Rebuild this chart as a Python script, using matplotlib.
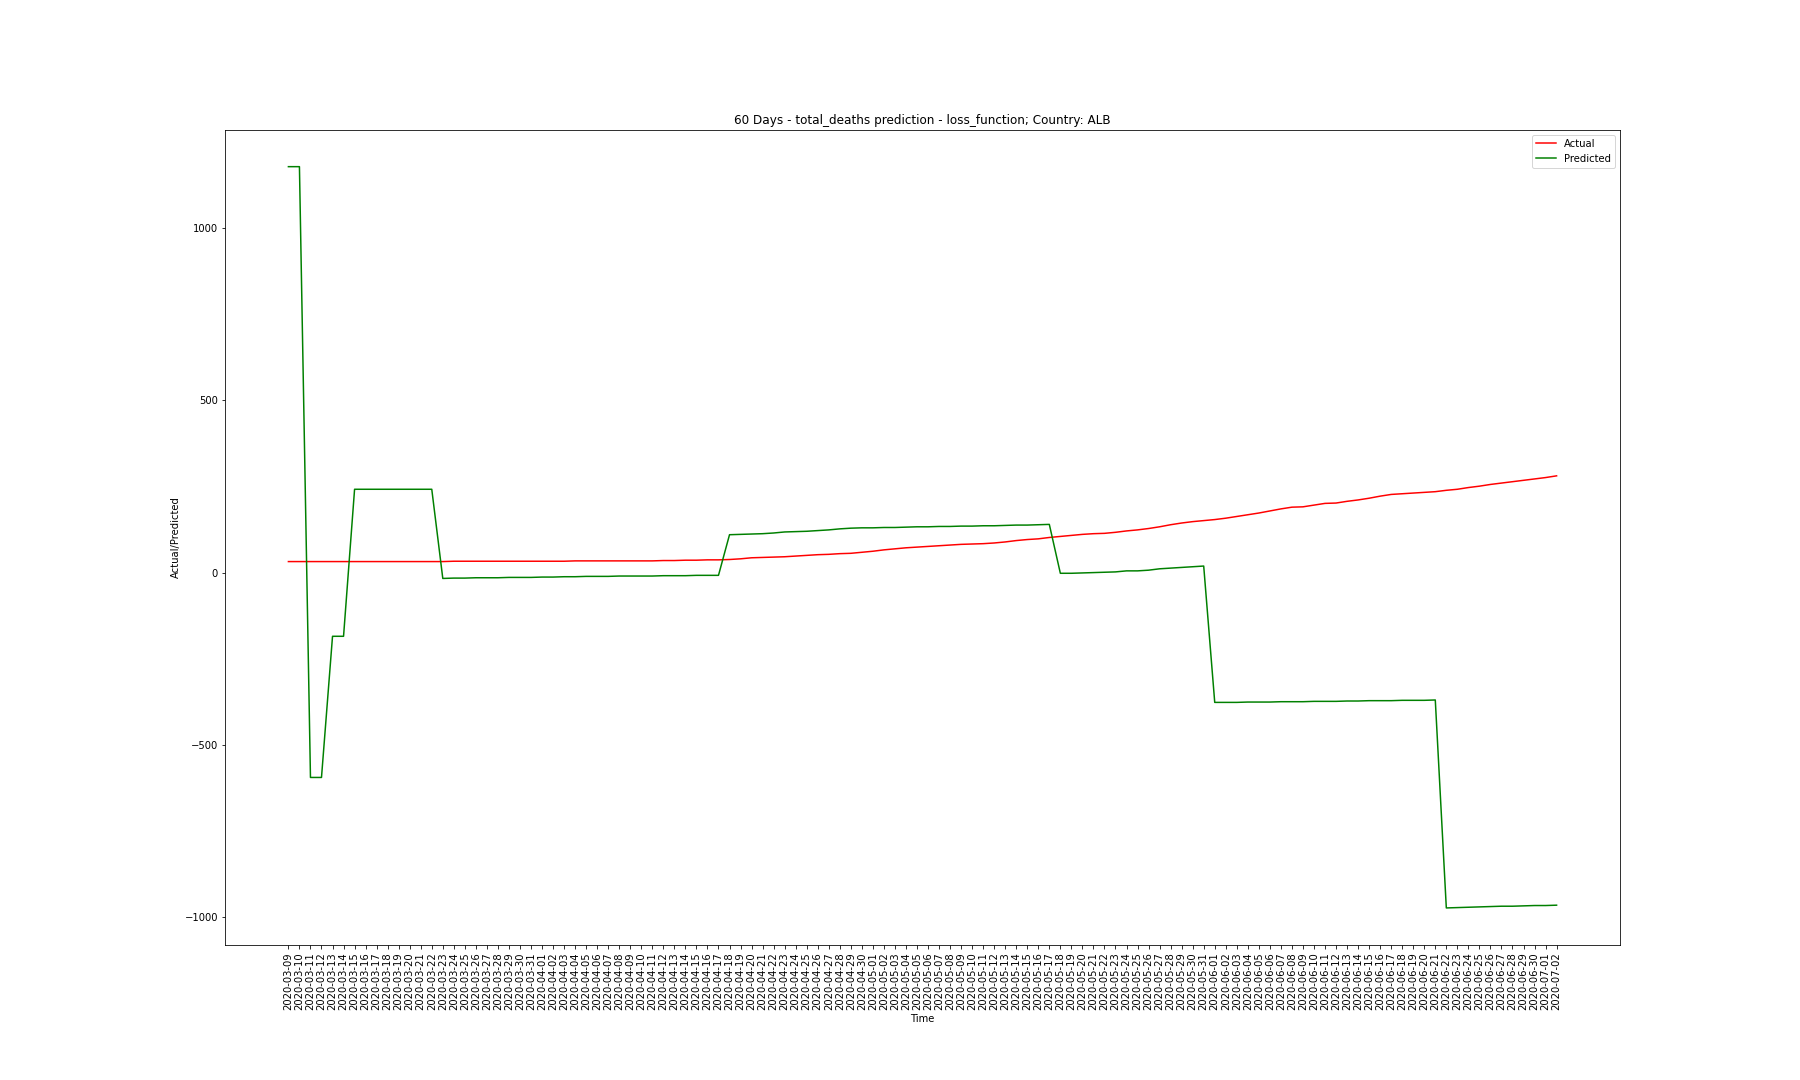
import numpy as np
import pandas as pd
import matplotlib
matplotlib.use('Agg')
import matplotlib.pyplot as plt

# dates 2020-03-09 .. 2020-07-02
dates = pd.date_range('2020-03-09', '2020-07-02').strftime('%Y-%m-%d').tolist()

actual = [
    32, 32, 32, 32, 32, 32, 32, 32, 32, 32,
    32, 32, 32, 32, 32, 33, 33, 33, 33, 33,
    33, 33, 33, 33, 33, 33, 34, 34, 34, 34,
    34, 34, 34, 34, 35, 35, 36, 36, 37, 37,
    38, 40, 43, 44, 45, 46, 48, 50, 52, 53,
    55, 56, 59, 62, 66, 69, 72, 74, 76, 78,
    80, 82, 83, 84, 86, 89, 93, 96, 98, 102,
    105, 108, 111, 113, 114, 117, 121, 124, 128, 133,
    139, 144, 148, 151, 154, 158, 163, 168, 173, 179,
    185, 190, 191, 196, 201, 202, 207, 211, 216, 222,
    227, 229, 231, 233, 235, 239, 242, 247, 251, 256,
    260, 264, 268, 272, 276, 281,
]

predicted = [
    1179, 1179, -595, -595, -185, -185, 242, 242, 242, 242,
    242, 242, 242, 242, -17, -16, -16, -15, -15, -15,
    -14, -14, -14, -13, -13, -12, -12, -11, -11, -11,
    -10, -10, -10, -10, -9, -9, -9, -8, -8, -8,
    110, 111, 112, 113, 115, 118, 119, 120, 122, 124,
    127, 129, 130, 130, 131, 131, 132, 133, 133, 134,
    134, 135, 135, 136, 136, 137, 138, 138, 139, 140,
    -2, -2, -1, 0, 1, 2, 5, 5, 7, 11,
    13, 15, 17, 19, -377, -377, -377, -376, -376, -376,
    -375, -375, -375, -374, -374, -374, -373, -373, -372, -372,
    -372, -371, -371, -371, -370, -974, -973, -972, -971, -970,
    -969, -969, -968, -967, -967, -966,
]

fig = plt.figure(figsize=(25, 15), dpi=72)
plt.subplots_adjust(bottom=0.125)
plt.plot(dates, actual, color='red', label='Actual')
plt.plot(dates, predicted, color='green', label='Predicted')
plt.title('60 Days - total_deaths prediction - loss_function; Country: ALB')
plt.xlabel('Time')
plt.ylabel('Actual/Predicted')
plt.xticks(rotation=90)
plt.legend(loc='upper right')
plt.savefig('out.png', dpi=72)
